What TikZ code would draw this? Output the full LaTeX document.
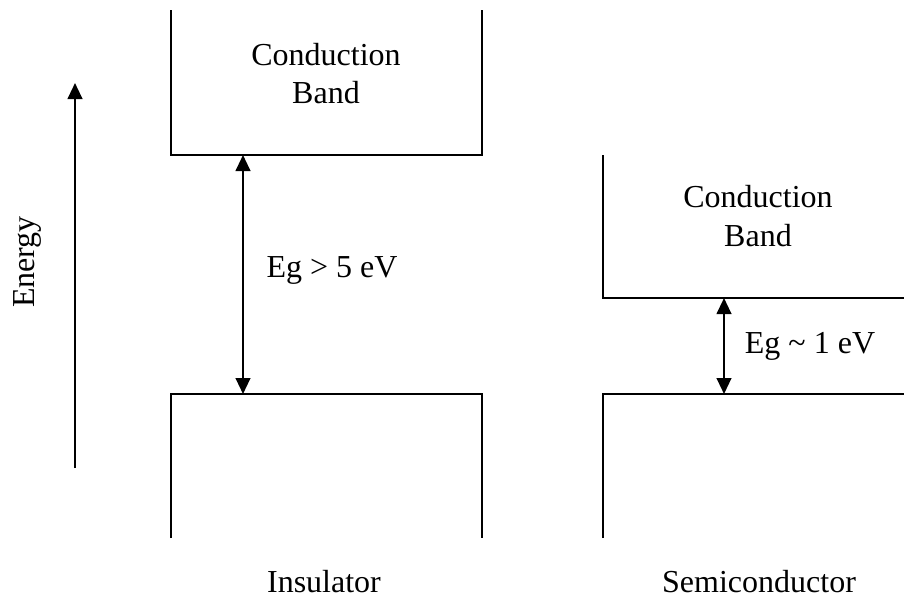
\documentclass[tikz,border=0pt]{standalone}
\usepackage{fontspec}
\setmainfont{Liberation Serif}
\usetikzlibrary{arrows.meta,positioning}
\tikzset{band/.style={line width=0.8pt,draw=black},lbl/.style={font=\fontsize{12}{14.5}\selectfont,align=center,inner sep=0pt},gap/.style={{Triangle[length=6pt,width=5.5pt]}-{Triangle[length=6pt,width=5.5pt]},line width=0.8pt},axis/.style={-{Triangle[length=6pt,width=5.5pt]},line width=0.8pt}}
\begin{document}
\begin{tikzpicture}[x=0.375pt,y=-0.375pt]
\useasboundingbox (0,0) rectangle (904,596);
% energy axis
\coordinate (elo) at (75,468);\coordinate (ehi) at (75,83);
\draw[axis] (elo)--(ehi);
\node[lbl,rotate=90] (energy) at (27.5,262) {Energy};
% insulator
\draw[band] (171,10) |- (482,155) -- (482,10);
\draw[band] (171,538) |- (482,394) -- (482,538);
\node[lbl] (icb) at (326,73.5) {Conduction\\Band};
\coordinate (ic) at (243,155);\coordinate (iv) at (243,394);
\draw[gap] (ic)--(iv);
\node[lbl] (ieg) at (332,270) {Eg > 5 eV};
\node[lbl] (ins) at (324,581.5) {Insulator};
% semiconductor
\draw[band] (603,155) |- (904,298);
\draw[band] (603,538) |- (904,394);
\node[lbl] (scb) at (758,216) {Conduction\\Band};
\coordinate (sc) at (724,298);\coordinate (sv) at (724,394);
\draw[gap] (sc)--(sv);
\node[lbl] (seg) at (810,346) {Eg \textasciitilde{} 1 eV};
\node[lbl] (semi) at (759,581.5) {Semiconductor};
\end{tikzpicture}
\end{document}
